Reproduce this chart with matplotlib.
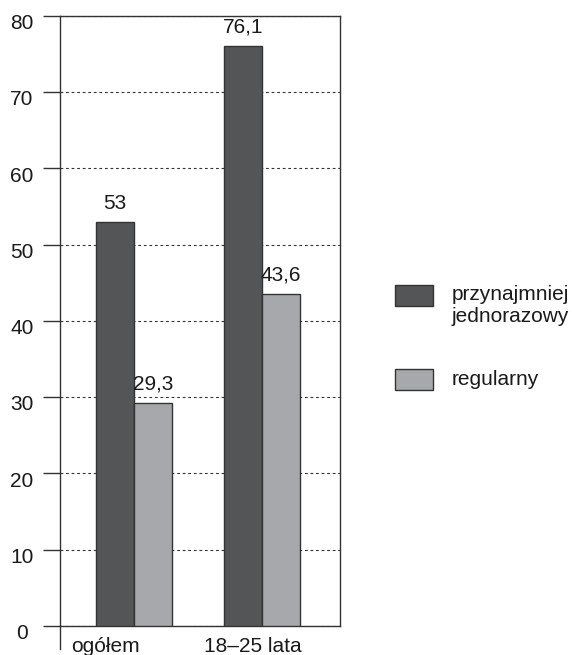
import numpy as np
import matplotlib
matplotlib.use('Agg')
import matplotlib.pyplot as plt
from matplotlib.patches import Rectangle
from matplotlib.transforms import ScaledTranslation

plt.rcParams['font.family'] = ['Liberation Sans', 'DejaVu Sans']
plt.rcParams['font.size'] = 15

# data
groups = ['ogółem', '18–25 lata']
series = ['przynajmniej\njednorazowy', 'regularny']
at_least_once = [53, 76.1]
regular = [29.3, 43.6]
value_labels = [['53', '76,1'], ['29,3', '43,6']]
yticks = [0, 10, 20, 30, 40, 50, 60, 70, 80]

colors = ['#545557', '#a7a8ac']
edge = '#333333'
txt = '#1a1a1a'
width = 0.297

fig = plt.figure(figsize=(5.72, 6.55), dpi=100)
ax = fig.add_axes([0.105, 0.0443, 0.4895, 0.9313])

x = np.arange(len(groups))
for k, vals in enumerate([at_least_once, regular]):
    pos = x - width / 2 + k * width
    b = ax.bar(pos, vals, width, color=colors[k], edgecolor=edge, linewidth=1, zorder=3)
    for rect, lab in zip(b, value_labels[k]):
        ax.text(rect.get_x() + rect.get_width() / 2, rect.get_height() + 1.2, lab,
                ha='center', va='bottom', fontsize=15, color=txt)

ax.set_xlim(-0.578, 1.609)
ax.set_ylim(0, 80)
ax.set_yticks(yticks)
ax.yaxis.grid(True, linestyle=(0, (2.5, 2.5)), color='#333333', linewidth=0.8, zorder=0)
ax.tick_params(axis='y', direction='out', length=12, width=1, color='#333333',
               labelcolor=txt, pad=15.5, labelsize=15)
# y labels centred in their column and sitting a bit low
shift = ScaledTranslation(0, -4 / 72, fig.dpi_scale_trans)
for lab in ax.get_yticklabels():
    lab.set_horizontalalignment('center')
    lab.set_transform(lab.get_transform() + shift)
ax.set_xticks([-0.227, 0.93])
ax.set_xticklabels(groups)
ax.tick_params(axis='x', length=0, pad=8, labelsize=15, labelcolor=txt)
for s in ax.spines.values():
    s.set_color('#333333')
    s.set_linewidth(1)

# left axis line runs a little below zero
ax.plot([0, 0], [0, -0.038], transform=ax.transAxes, color='#333333',
        linewidth=1, clip_on=False)

# legend on the right
fig.add_artist(Rectangle((0.6906, 0.5328), 0.0664, 0.0321, facecolor=colors[0],
                         edgecolor=edge, linewidth=1, transform=fig.transFigure))
fig.add_artist(Rectangle((0.6906, 0.4046), 0.0664, 0.0321, facecolor=colors[1],
                         edgecolor=edge, linewidth=1, transform=fig.transFigure))
fig.text(0.790, 0.5655, series[0], ha='left', va='top', fontsize=15, color=txt,
         linespacing=1.2)
fig.text(0.790, 0.4205, series[1], ha='left', va='center', fontsize=15, color=txt)

fig.savefig('out.png', dpi=100)
